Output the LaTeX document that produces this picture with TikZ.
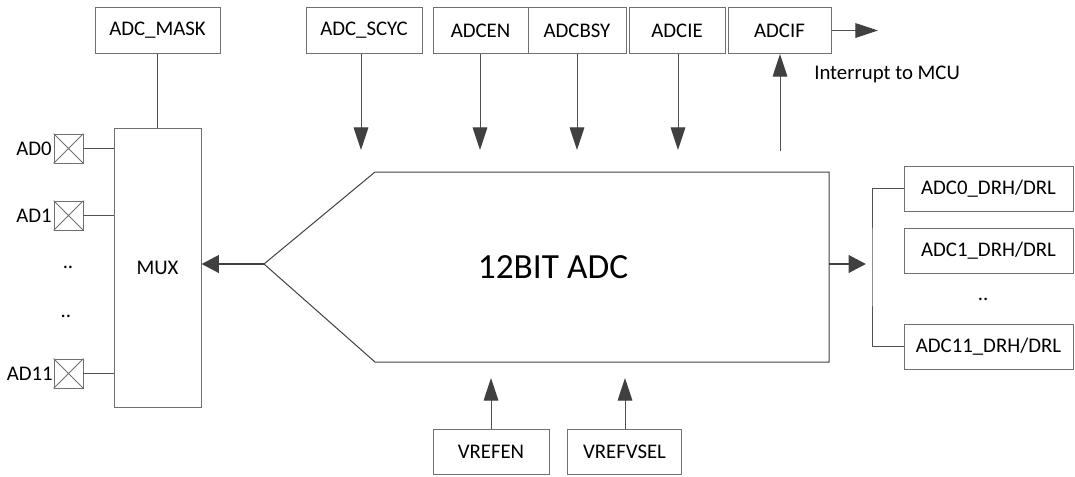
\documentclass[tikz,border=0pt]{standalone}
\usepackage{fontspec}
\setmainfont{Carlito}
\usetikzlibrary{arrows.meta}
\definecolor{ln}{HTML}{505050}
\definecolor{bx}{HTML}{707070}
\definecolor{hd}{HTML}{404040}
\begin{document}
\begin{tikzpicture}[x=0.75pt,y=-0.75pt,
  box/.style={draw=bx, line width=0.75pt, inner sep=0pt, font=\fontsize{15.6}{18}\selectfont, text=black},
  topbox/.style={box, minimum height=34.5pt},
  drbox/.style={box, minimum width=126.75pt, minimum height=33.75pt},
  pinbox/.style={draw=bx, line width=0.6pt, inner sep=0pt, minimum width=21.75pt, minimum height=21.75pt},
  lbl/.style={inner sep=0pt, font=\fontsize{15.6}{18}\selectfont},
  conn/.style={draw=ln, line width=0.75pt},
  arr/.style={conn, -{Triangle[length=17pt,width=11pt,color=hd]}},
  bigarr/.style={draw=hd, line width=2.2pt, -{Triangle[length=13pt,width=13pt,color=hd]}}]
\useasboundingbox (0,0) rectangle (1075,476);

% MUX side
\node[box, minimum width=93.75pt, minimum height=34.5pt] (mask) at (157.5,30) {ADC\_MASK};
\node[box, minimum width=65.25pt, minimum height=209.25pt] (mux) at (157.5,267.5) {MUX};
\draw[conn] (mask.south) -- (mux.north);

\node[pinbox] (p0) at (68.5,148.5) {};
\node[pinbox] (p1) at (68.5,215.5) {};
\node[pinbox] (p11) at (68.5,373.5) {};
\foreach \p in {p0,p1,p11}{
  \draw[draw=bx, line width=0.6pt] (\p.north west) -- (\p.south east) (\p.north east) -- (\p.south west);
  \draw[conn] (\p.east) -- (mux.west |- \p.east);
}
\node[lbl, anchor=east] (l0) at (52,149) {AD0};
\node[lbl, anchor=east] (l1) at (52,216) {AD1};
\node[lbl, anchor=east] (l11) at (53,374) {AD11};
\node[lbl] (d1) at (68,267) {..};
\node[lbl] (d2) at (66,316) {..};

% main ADC shape
\coordinate (apex) at (264,264);
\draw[draw=hd, line width=0.75pt] (apex) -- (375,172) -- (829,172) -- (829,362) -- (375,362) -- cycle;
\node[inner sep=0pt, font=\fontsize{26.5}{30}\selectfont] (adc) at (553,267) {12BIT ADC};
\draw[bigarr] (apex) -- (mux.east |- apex);

% top registers
\node[topbox, minimum width=87pt] (scyc) at (364,30.5) {ADC\_SCYC};
\node[topbox, minimum width=71.25pt] (en) at (480.5,30.5) {ADCEN};
\node[topbox, minimum width=73.5pt] (bsy) at (577,30.5) {ADCBSY};
\node[topbox, minimum width=72pt] (ie) at (677,30.5) {ADCIE};
\node[topbox, minimum width=77.25pt] (if) at (779.5,30.5) {ADCIF};

\coordinate (t1) at (361,150);
\coordinate (t2) at (480,150);
\coordinate (t3) at (577,150);
\coordinate (t4) at (678,150);
\coordinate (t5) at (780,151);
\coordinate (t6) at (878,30.5);
\draw[arr] (scyc.south -| t1) -- (t1);
\draw[arr] (en.south -| t2) -- (t2);
\draw[arr] (bsy.south -| t3) -- (t3);
\draw[arr] (ie.south -| t4) -- (t4);
\draw[arr] (t5) -- (if.south -| t5);
\draw[arr] (if.east) -- (t6);
\node[lbl, anchor=west] (irq) at (814,74) {Interrupt to MCU};

% bottom
\node[box, minimum width=87pt, minimum height=33.75pt] (vrefen) at (491,451.5) {VREFEN};
\node[box, minimum width=85.5pt, minimum height=33.75pt] (vrefvsel) at (624.5,451.5) {VREFVSEL};
\coordinate (b1) at (491,378);
\coordinate (b2) at (625,378);
\draw[arr] (vrefen.north -| b1) -- (b1);
\draw[arr] (vrefvsel.north -| b2) -- (b2);

% right side
\coordinate (rs) at (829,264);
\coordinate (rt) at (866,264);
\draw[bigarr] (rs) -- (rt);
\node[drbox] (r0) at (988.5,188.5) {ADC0\_DRH/DRL};
\node[drbox] (r1) at (988.5,250.5) {ADC1\_DRH/DRL};
\node[drbox] (r11) at (988.5,346.5) {ADC11\_DRH/DRL};
\node[lbl] (d3) at (983,299) {..};
\coordinate (bx) at (872,267);
\draw[conn] (r0.west) -| (bx) |- (r11.west);
\end{tikzpicture}
\end{document}
